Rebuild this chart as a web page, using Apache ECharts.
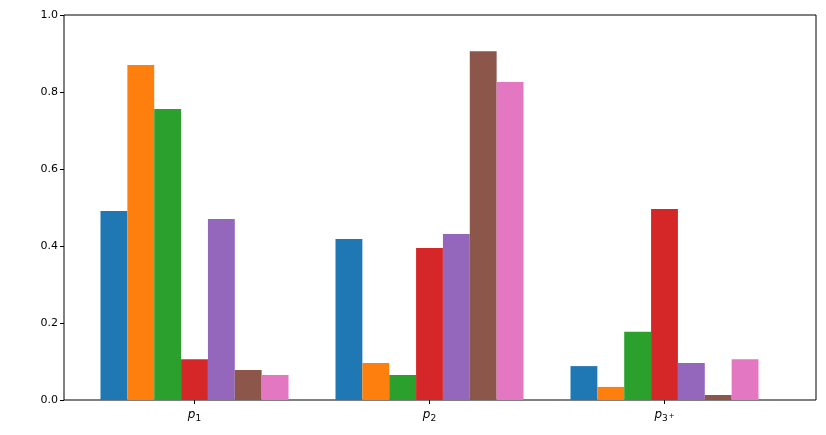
<!DOCTYPE html>
<html>
<head>
<meta charset="utf-8">
<script src="https://cdn.jsdelivr.net/npm/echarts@6/dist/echarts.min.js"></script>
<style>
  html, body { margin: 0; padding: 0; background: #fff; }
  #chart { width: 826px; height: 435px; }
</style>
</head>
<body>
<div id="chart"></div>
<script>
// data
var categories = ['p₁', 'p₂', 'p₃⁺'];
var subText = { '₁': ['1', ''], '₂': ['2', ''], '₃⁺': ['3', '+'] };

var s1 = [0.491, 0.418, 0.088];
var s2 = [0.870, 0.096, 0.034];
var s3 = [0.756, 0.065, 0.177];
var s4 = [0.106, 0.395, 0.496];
var s5 = [0.470, 0.431, 0.096];
var s6 = [0.078, 0.906, 0.013];
var s7 = [0.065, 0.826, 0.106];

var allSeries = [s1, s2, s3, s4, s5, s6, s7];
var colors = ['#1f77b4', '#ff7f0e', '#2ca02c', '#d62728', '#9467bd', '#8c564b', '#e377c2'];

var myChart = echarts.init(document.getElementById('chart'));

var font = 'DejaVu Sans';

option = {
    animation: false,
    backgroundColor: '#fff',
    color: colors,
    grid: [
        // frame with the y axis
        { left: 64, right: 10, top: 15, bottom: 35, show: true, borderColor: '#000', borderWidth: 1, backgroundColor: 'transparent' },
        // bars
        { left: 77, width: 705, top: 15, bottom: 35 }
    ],
    xAxis: [
        {
            gridIndex: 0, type: 'value', min: 0, max: 1,
            axisLine: { show: false }, axisTick: { show: false },
            axisLabel: { show: false }, splitLine: { show: false }
        },
        {
            gridIndex: 1, type: 'category', data: categories,
            boundaryGap: true,
            axisLine: { show: false },
            axisTick: { show: true, alignWithLabel: true, length: 4, lineStyle: { color: '#000' } },
            axisLabel: {
                margin: 7,
                formatter: function (v) {
                    var sub = subText[v.slice(1)];
                    var s = '{i|' + v.charAt(0) + '}{s|' + sub[0] + '}';
                    if (sub[1]) s += '{u|' + sub[1] + '}';
                    return s;
                },
                rich: {
                    i: { fontFamily: font, fontStyle: 'italic', fontSize: 12, color: '#000', lineHeight: 16 },
                    s: { fontFamily: font, fontSize: 9, color: '#000', padding: [7, 0, 0, 0] },
                    u: { fontFamily: font, fontSize: 7, color: '#000', padding: [2, 0, 0, 1] }
                }
            },
            splitLine: { show: false }
        }
    ],
    yAxis: [
        {
            gridIndex: 0, type: 'value', min: 0, max: 1, interval: 0.2,
            axisLine: { show: false },
            axisTick: { show: true, length: 4, lineStyle: { color: '#000' } },
            axisLabel: {
                fontFamily: font, fontSize: 11, color: '#000', margin: 6,
                formatter: function (v) { return v.toFixed(1); }
            },
            splitLine: { show: false }
        },
        {
            gridIndex: 1, type: 'value', min: 0, max: 1,
            show: false
        }
    ],
    series: allSeries.map(function (d, i) {
        return {
            name: 's' + (i + 1),
            type: 'bar',
            xAxisIndex: 1,
            yAxisIndex: 1,
            data: d,
            barGap: '0%',
            barCategoryGap: '20%',
            itemStyle: { color: colors[i] }
        };
    })
};

myChart.setOption(option, true);
</script>
</body>
</html>
